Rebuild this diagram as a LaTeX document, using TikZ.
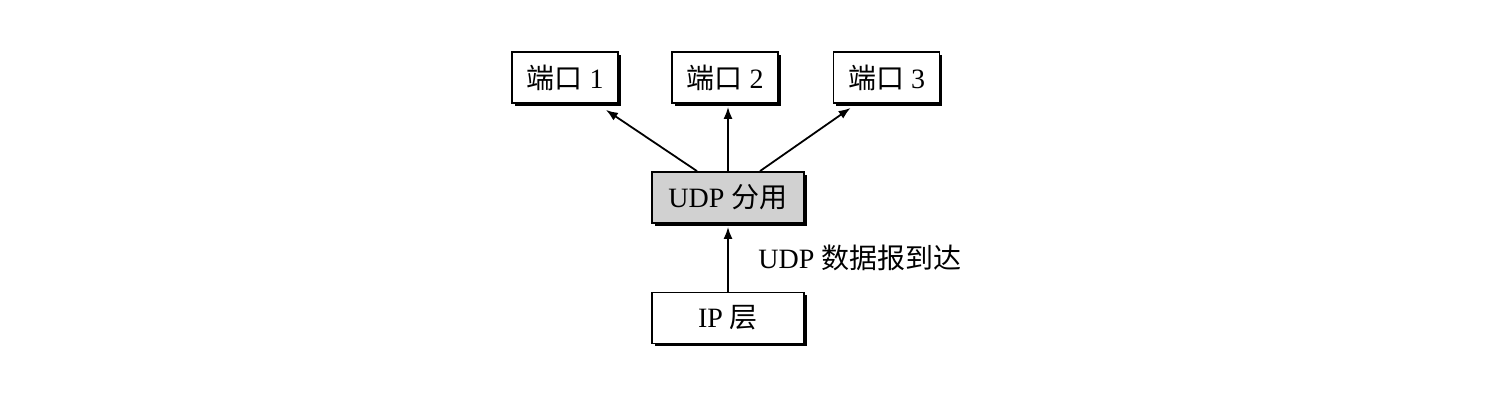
\documentclass[tikz,border=0pt]{standalone}
\usepackage{fontspec}
\setmainfont{Liberation Serif}
\newfontfamily\cjk{Noto Sans CJK SC}
\usepackage{tikz}
\usetikzlibrary{shapes,arrows,arrows.meta,positioning,shadows}

\begin{document}
\begin{tikzpicture}[x=0.5pt, y=-0.5pt,
                   box/.style={draw, line width=0.9pt, fill=white,
                     minimum width=53pt, minimum height=25.5pt, inner sep=0pt,
                     font=\fontsize{14}{16}\selectfont,
                     drop shadow={shadow xshift=1.3pt, shadow yshift=-1.3pt,
                       fill=black, opacity=1}},
                   arr/.style={-{Latex[length=6pt,width=4.5pt]}, line width=0.9pt}]
  \useasboundingbox (0,0) rectangle (1496,408);
  % ports
  \node[box] (p1) at (565,77.5) {{\cjk 端口} 1};
  \node[box] (p2) at (725,77.5) {{\cjk 端口} 2};
  \node[box] (p3) at (886.5,77.5) {{\cjk 端口} 3};
  % demultiplexer and ip layer
  \node[box, minimum width=76pt, fill=black!18] (udp) at (728,197.5) {UDP {\cjk 分用}};
  \node[box, minimum width=76pt] (ip) at (728,318) {IP {\cjk 层}};
  \draw[arr] ([xshift=-15.5pt]udp.north) -- ([xshift=-6.5pt,yshift=-3pt]p1.south east);
  \draw[arr] (udp.north) -- ([yshift=-1.5pt]udp.north |- p2.south);
  \draw[arr] ([xshift=16pt]udp.north) -- ([xshift=9pt,yshift=-2pt]p3.south west);
  \draw[arr] (ip.north) -- ([yshift=-1.5pt]udp.south);
  \node[anchor=west, font=\fontsize{14}{16}\selectfont, inner sep=0pt] (lbl) at (758,258) {UDP {\cjk 数据报到达}};
\end{tikzpicture}
\end{document}
